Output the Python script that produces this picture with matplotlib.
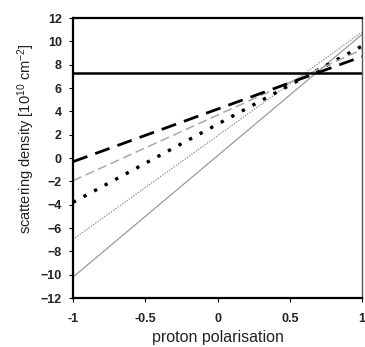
import matplotlib.pyplot as plt

plt.rcParams['font.family'] = ['Liberation Sans', 'DejaVu Sans']
plt.rcParams['mathtext.default'] = 'regular'

# proton polarisation at the two ends of each line
polarisation = [-1, 1]
horizontal = [7.3, 7.3]
thick_dash = [-0.31, 8.7]
gray_dash = [-1.94, 9.3]
thick_dots = [-3.8, 9.6]
thin_dots = [-6.97, 10.8]
thin_solid = [-10.2, 10.6]

fig = plt.figure(figsize=(3.65, 3.47), dpi=100)
ax = fig.add_axes([0.2, 0.141, 0.792, 0.807])

ax.plot(polarisation, thin_solid, color='#9a9a9a', lw=0.9)
ax.plot(polarisation, thin_dots, color='#8a8a8a', lw=0.9, dashes=(1, 1.2))
ax.plot(polarisation, thick_dots, color='black', lw=2.4, dashes=(1, 2.6))
ax.plot(polarisation, gray_dash, color='#a8a8a8', lw=1.1, dashes=(6, 3))
ax.plot(polarisation, thick_dash, color='black', lw=2.0, dashes=(5.5, 3))
ax.plot(polarisation, horizontal, color='black', lw=1.8)

ax.set_xlim(-1, 1)
ax.set_ylim(-12, 12)
ax.set_xticks([-1, -0.5, 0, 0.5, 1])
ax.set_xticklabels(['-1', '-0.5', '0', '0.5', '1'])
ax.set_yticks(range(-12, 13, 2))
ax.tick_params(labelsize=9, direction='out', length=3, width=0.8, pad=5)
ax.tick_params(axis='x', pad=8)
for lab in ax.get_xticklabels() + ax.get_yticklabels():
    lab.set_fontweight('bold')
    lab.set_color('#222222')

for side in ['left', 'bottom', 'top']:
    ax.spines[side].set_linewidth(1.6)
ax.spines['right'].set_linewidth(1.0)
ax.spines['right'].set_color('#555555')

ax.set_xlabel('proton polarisation', fontsize=11.5, labelpad=3, color='#222222')
ax.set_ylabel(r'scattering density [10$^{10}$ cm$^{-2}$]', fontsize=10.5,
              color='#222222')
ax.yaxis.set_label_coords(-0.125, 0.57)

fig.savefig('out.png', dpi=100)
